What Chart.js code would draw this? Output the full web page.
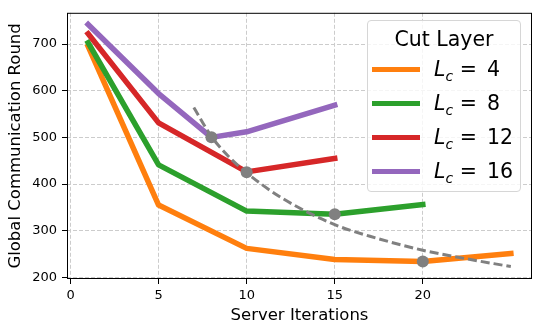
<!DOCTYPE html>
<html>
<head>
<meta charset="utf-8">
<script src="https://cdn.jsdelivr.net/npm/chart.js@4.4.0/dist/chart.umd.min.js"></script>
<style>
  html, body { margin: 0; padding: 0; background: #fff; }
  #wrap { position: relative; width: 541px; height: 333px; }
  #legend {
    position: absolute; left: 367px; top: 20px; width: 152px; height: 170px;
    border: 1px solid #d6d6d6; border-radius: 4px; background: rgba(255,255,255,0.8);
    font-family: 'DejaVu Sans'; color: #000;
  }
  #legend .title { position: absolute; left: 0; top: 5px; width: 100%; height: 26px; line-height: 26px; text-align: center; font-size: 20.5px; }
  #legend .row { position: absolute; left: 0; width: 100%; height: 26px; line-height: 26px; font-size: 20.5px; }
  #legend .swatch { position: absolute; left: 4px; top: 10.5px; width: 48px; height: 5px; }
  #legend .lab { position: absolute; left: 66px; top: 0; white-space: nowrap; }
  #legend .lab i { font-style: italic; }
  #legend .lab sub { font-style: italic; font-size: 14px; vertical-align: -5px; line-height: 0; }
  #legend .num { position: absolute; left: 119px; top: 0; }
</style>
</head>
<body>
<div id="wrap">
  <canvas id="chart" width="541" height="333"></canvas>
  <div id="legend"></div>
</div>
<script>
// cut layers and their curves (server iterations -> global communication rounds)
const cutLayers = [4, 8, 12, 16];
const colors = ['#ff7f0e', '#2ca02c', '#d62728', '#9467bd'];

const iters4 = [1, 5, 10, 15, 20, 25];
const rounds4 = [695, 355, 262, 238, 234, 251];
const iters8 = [1, 5, 10, 15, 20];
const rounds8 = [703, 441, 342, 335, 356];
const iters12 = [1, 5, 10, 15];
const rounds12 = [722, 531, 426, 455];
const iters16 = [1, 5, 8, 10, 15];
const rounds16 = [742, 594, 500, 512, 569];

// best points (grey markers) and the dashed trend through them
const bestIters = [8, 10, 15, 20];
const bestRounds = [500, 425, 335, 234];
const trendIters = [7, 8, 9, 10, 12, 15, 17, 20, 22, 25];
const trendRounds = [564, 502, 458, 424, 370, 313, 288, 258, 243, 223];

const xTicks = [0, 5, 10, 15, 20];
const yTicks = [200, 300, 400, 500, 600, 700];

const toPts = (xs, ys) => xs.map((x, i) => ({ x: x, y: ys[i] }));
const allIters = [iters4, iters8, iters12, iters16];
const allRounds = [rounds4, rounds8, rounds12, rounds16];

Chart.defaults.font.family = 'DejaVu Sans';
Chart.defaults.color = '#000';

let datasets = [];
datasets.push({
    label: 'best',
    data: toPts(bestIters, bestRounds),
    showLine: false,
    pointRadius: 6,
    pointBackgroundColor: '#808080',
    pointBorderColor: '#808080',
    pointBorderWidth: 0,
    order: 0
});
datasets.push({
    label: 'trend',
    data: toPts(trendIters, trendRounds),
    borderColor: '#808080',
    borderWidth: 3,
    borderDash: [9, 4],
    cubicInterpolationMode: 'monotone',
    pointRadius: 0,
    order: 1
});
for (var i = cutLayers.length - 1; i >= 0; i--) {
    datasets.push({
        label: 'L_c = ' + cutLayers[i],
        data: toPts(allIters[i], allRounds[i]),
        borderColor: colors[i],
        backgroundColor: colors[i],
        borderWidth: 5.5,
        borderCapStyle: 'square',
        borderJoinStyle: 'round',
        pointRadius: 0,
        order: 2 + (cutLayers.length - 1 - i)
    });
}

// html legend with italic L and subscript c
const legendEl = document.getElementById('legend');
let html = '<div class="title">Cut Layer</div>';
const rowCenters = [48, 82, 116, 150];
for (var j = 0; j < cutLayers.length; j++) {
    html += '<div class="row" style="top:' + (rowCenters[j] - 13) + 'px">' +
        '<div class="swatch" style="background:' + colors[j] + '"></div>' +
        '<span class="lab"><i>L</i><sub>c</sub> =</span>' +
        '<span class="num">' + cutLayers[j] + '</span></div>';
}
legendEl.innerHTML = html;

const framePlugin = {
    id: 'frame',
    afterDraw(chart) {
        const { ctx, chartArea: a } = chart;
        ctx.save();
        ctx.strokeStyle = '#000';
        ctx.lineWidth = 1;
        ctx.strokeRect(a.left + 0.5, a.top + 0.5, a.right - a.left - 1, a.bottom - a.top - 1);
        ctx.restore();
    }
};

new Chart(document.getElementById('chart'), {
    type: 'line',
    data: { datasets: datasets },
    options: {
        responsive: false,
        animation: false,
        devicePixelRatio: 1,
        layout: { padding: { left: 0, top: 9, right: 9, bottom: 0 } },
        plugins: {
            legend: { display: false },
            tooltip: { enabled: false }
        },
        scales: {
            x: {
                type: 'linear',
                min: -0.2,
                max: 26.2,
                afterBuildTicks: (s) => { s.ticks = xTicks.map(v => ({ value: v })); },
                afterFit: (s) => { s.height = 54; },
                ticks: { font: { size: 13 }, padding: 4, maxRotation: 0 },
                grid: { color: '#cccccc', tickColor: '#000', tickLength: 5, lineWidth: 1 },
                border: { display: false, dash: [4, 2] },
                title: { display: true, text: 'Server Iterations', font: { size: 16.5 }, padding: { top: 0, bottom: 7 } }
            },
            y: {
                type: 'linear',
                min: 196.4,
                max: 767,
                afterBuildTicks: (s) => { s.ticks = yTicks.map(v => ({ value: v })); },
                afterFit: (s) => { s.width = 67; },
                ticks: { font: { size: 13 }, padding: 5 },
                grid: { color: '#cccccc', tickColor: '#000', tickLength: 5, lineWidth: 1 },
                border: { display: false, dash: [4, 2] },
                title: { display: true, text: 'Global Communication Round', font: { size: 16.5 }, padding: { top: 6, bottom: 0 } }
            }
        }
    },
    plugins: [framePlugin]
});
</script>
</body>
</html>
